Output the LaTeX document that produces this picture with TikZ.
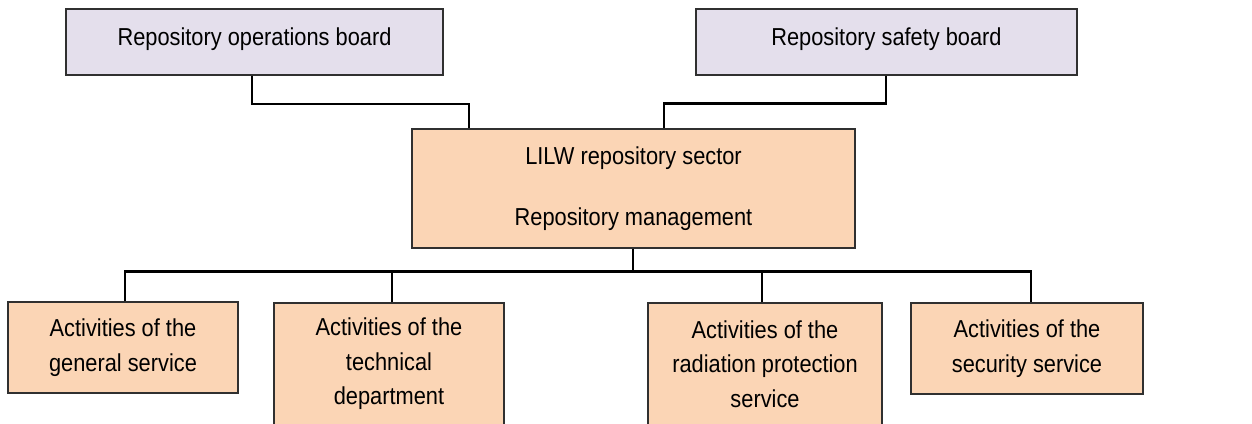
\documentclass[tikz,border=0pt]{standalone}
\usepackage{fontspec}
\setmainfont{Liberation Sans}[FakeStretch=0.89]
\definecolor{lav}{HTML}{E4DFEC}
\definecolor{peach}{HTML}{FBD5B5}
\definecolor{edge}{HTML}{303030}
\begin{document}
\begin{tikzpicture}[x=1pt,y=1pt,
  txt/.style={inner sep=0pt,align=center,font=\fontsize{24.5}{34.5}\selectfont},
  box/.style={draw=edge,line width=1.2pt,inner sep=0pt,align=center,
    font=\fontsize{24.5}{34.5}\selectfont},
  topbox/.style={box,fill=lav},
  orgbox/.style={box,fill=peach},
  conn/.style={draw=black,line width=2.2pt}]
\clip (0,0) rectangle (1252,-423);
\fill[white] (0,0) rectangle (1252,-423);
\node[topbox,minimum width=377pt,minimum height=66pt] (ops) at (254.5,-42) {};
\node[txt,anchor=base] (opsT) at ([yshift=-3pt]ops.center) {Repository operations board};
\node[topbox,minimum width=381pt,minimum height=66pt] (saf) at (886.5,-42) {};
\node[txt,anchor=base] (safT) at ([yshift=-3pt]saf.center) {Repository safety board};
\node[orgbox,minimum width=443pt,minimum height=119pt] (ctr) at (633.5,-188.5) {LILW repository sector\\[27pt]Repository management};
\node[orgbox,minimum width=230pt,minimum height=91pt] (b1) at (123,-347.5) {Activities of the\\general service};
\node[orgbox,minimum width=230pt,minimum height=122pt] (b2) at (389,-364) {Activities of the\\technical\\department};
\node[orgbox,minimum width=234pt,minimum height=122pt] (b3) at (765,-364) {Activities of the\\radiation protection\\service};
\node[orgbox,minimum width=232pt,minimum height=91pt] (b4) at (1027,-348.5) {Activities of the\\security service};
\coordinate (bus) at (633,-271.5);
\draw[conn] ([xshift=-2.5pt]ops.south) |- (469,-104) -- ([xshift=-164.5pt]ctr.north);
\draw[conn] ([xshift=-0.5pt]saf.south) |- (664,-103.5) -- ([xshift=30.5pt]ctr.north);
\draw[conn] ([xshift=-0.5pt]ctr.south) -- (bus);
\draw[conn] ([xshift=2pt]b1.north) |- (bus) -| ([xshift=4pt]b4.north);
\draw[conn] ([xshift=3pt]b2.north) -- ([xshift=3pt]b2.north |- bus);
\draw[conn] ([xshift=-3pt]b3.north) -- ([xshift=-3pt]b3.north |- bus);
\end{tikzpicture}
\end{document}
